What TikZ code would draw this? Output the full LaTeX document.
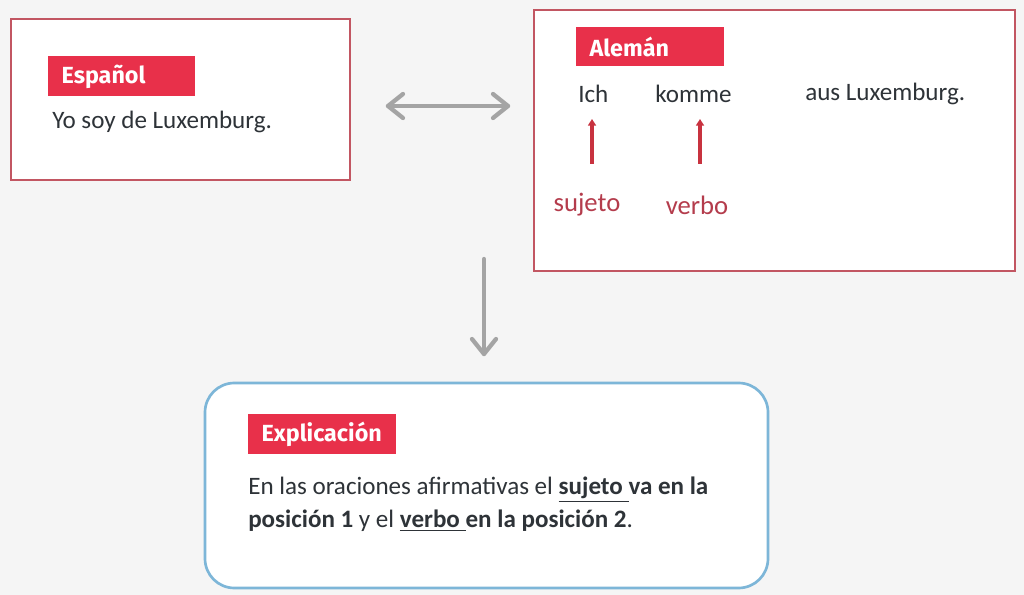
\documentclass[tikz,border=0pt]{standalone}
\usepackage{fontspec}
\setmainfont{Carlito}
\newfontfamily\headfont{Fira Sans}
\usetikzlibrary{arrows.meta}
\definecolor{bg}{HTML}{F5F5F5}
\definecolor{boxred}{HTML}{C25662}
\definecolor{tagred}{HTML}{E8304A}
\definecolor{arrred}{HTML}{C8323F}
\definecolor{lblred}{HTML}{B43C4C}
\definecolor{txt}{HTML}{2E3338}
\definecolor{garrow}{HTML}{A4A4A4}
\definecolor{blueb}{HTML}{7DB6D8}
\tikzset{
  frame/.style={draw=boxred, line width=1.2pt, fill=white},
  tag/.style={fill=tagred, text=white, font=\headfont\bfseries\fontsize{17.5}{20}\selectfont, anchor=west, inner sep=0pt, minimum height=30pt, text width=#1, align=left},
  body/.style={text=txt, font=\fontsize{18.8}{22}\selectfont, anchor=west, inner sep=0pt},
  redlbl/.style={text=lblred, font=\fontsize{20}{24}\selectfont, inner sep=0pt},
  redarrow/.style={draw=arrred, line width=2.3pt, -{Triangle[length=5pt,width=6pt]}},
  grayarrow/.style={draw=garrow, line width=3.2pt, line cap=round, line join=round},
}
\begin{document}
\begin{tikzpicture}[x=0.75pt,y=-0.75pt]
\useasboundingbox (0,0) rectangle (1024,595);
\fill[bg] (0,0) rectangle (1024,595);
% Espanol box
\node[frame, minimum width=339*0.75pt, minimum height=161*0.75pt, anchor=north west, inner sep=0pt] (esbox) at (10,18) {};
\node[tag=110pt] (estag) at (48,76.5) {\hspace{10pt}Español};
\node[body] (estxt) at (52,122) {Yo soy de Luxemburg.};
% Aleman box
\node[frame, minimum width=481*0.75pt, minimum height=261*0.75pt, anchor=north west, inner sep=0pt] (debox) at (533,9) {};
\node[tag=111pt, minimum height=29pt] (detag) at (576,46.5) {\hspace{10pt}Alemán};
\node[body] (ich) at (578,94) {Ich};
\node[body] (komme) at (655,94) {komme};
\node[body] (aus) at (805,94) {aus Luxemburg.};
\node[redlbl] (suj) at (587,205) {sujeto};
\node[redlbl] (verb) at (697,205) {verbo};
\coordinate (a1s) at (592,164);
\coordinate (a1e) at (592,119);
\coordinate (a2s) at (700,164);
\coordinate (a2e) at (700,119);
\draw[redarrow] (a1s) -- (a1e);
\draw[redarrow] (a2s) -- (a2e);
% gray double arrow
\coordinate (dl) at (388,106);
\coordinate (dr) at (508,106);
\draw[grayarrow] (dl) -- (dr);
\draw[grayarrow] (403,94) -- (dl) -- (403,118);
\draw[grayarrow] (493,94) -- (dr) -- (493,118);
% down arrow
\coordinate (vt) at (484,259);
\coordinate (vb) at (484,354);
\draw[grayarrow] (vt) -- (vb);
\draw[grayarrow] (472,339) -- (vb) -- (496,339);
% Explicacion box
\draw[draw=blueb, line width=2pt, fill=white, rounded corners=22pt] (205,383) rectangle (768,588);
\node[tag=111pt] (extag) at (248,434) {\hspace{10pt}Explicación};
\node[body, font=\fontsize{18.8}{24.75}\selectfont, align=left, anchor=north west] (extxt) at (248,477)
 {En las oraciones afirmativas el \textbf{\underline{sujeto\ }va en la}\\
  \textbf{posición 1} y el \textbf{\underline{verbo\ }en la posición 2}.};
\end{tikzpicture}
\end{document}
